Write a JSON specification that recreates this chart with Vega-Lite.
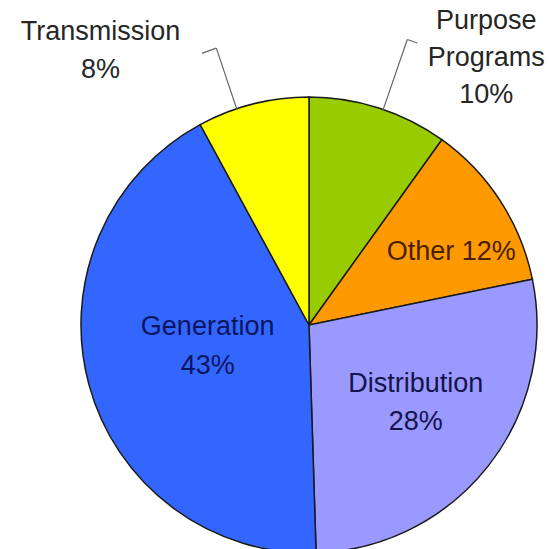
{
  "$schema": "https://vega.github.io/schema/vega-lite/v6.json",
  "width": 478,
  "height": 448,
  "autosize": {"type": "none"},
  "padding": {"left": 70, "top": 101, "right": 1, "bottom": 0},
  "background": "white",
  "view": {"stroke": null},
  "data": {
    "values": [
      {"category": "Purpose Programs", "value": 10, "idx": 1, "label": "Purpose\nPrograms\n10%"},
      {"category": "Other", "value": 12, "idx": 2, "label": "Other 12%"},
      {"category": "Distribution", "value": 28, "idx": 3, "label": "Distribution\n28%"},
      {"category": "Generation", "value": 43, "idx": 4, "label": "Generation\n43%"},
      {"category": "Transmission", "value": 8, "idx": 5, "label": "Transmission\n8%"}
    ]
  },
  "transform": [
    {"stack": "value", "groupby": [], "sort": [{"field": "idx", "order": "ascending"}], "as": ["v0", "v1"]}
  ],
  "layer": [
    {
      "mark": {"type": "arc", "radius": 228, "stroke": "#1a1a1a", "strokeWidth": 1.5},
      "encoding": {
        "theta": {"field": "v0", "type": "quantitative"},
        "theta2": {"field": "v1"},
        "color": {
          "field": "category",
          "type": "nominal",
          "scale": {
            "domain": ["Purpose Programs", "Other", "Distribution", "Generation", "Transmission"],
            "range": ["#99cc00", "#ff9900", "#9999ff", "#3366ff", "#ffff00"]
          },
          "legend": null
        }
      }
    },
    {
      "transform": [{"filter": "datum.category === 'Purpose Programs'"}],
      "mark": {"type": "arc", "radius": 302, "radius2": 227, "thetaOffset": 0.33161, "theta2Offset": 0.33161, "filled": false, "stroke": "#666666", "strokeWidth": 1.2},
      "encoding": {
        "theta": {"field": "v0", "type": "quantitative"},
        "theta2": {"field": "v0"}
      }
    },
    {
      "transform": [{"filter": "datum.category === 'Purpose Programs'"}],
      "mark": {"type": "arc", "radius": 302, "radius2": 302, "thetaOffset": 0.3665, "theta2Offset": 0.33161, "filled": false, "stroke": "#666666", "strokeWidth": 1.2},
      "encoding": {
        "theta": {"field": "v0", "type": "quantitative"},
        "theta2": {"field": "v0"}
      }
    },
    {
      "transform": [{"filter": "datum.category === 'Transmission'"}],
      "mark": {"type": "arc", "radius": 292, "radius2": 227, "thetaOffset": 0.17473, "theta2Offset": 0.17473, "filled": false, "stroke": "#666666", "strokeWidth": 1.2},
      "encoding": {
        "theta": {"field": "v0", "type": "quantitative"},
        "theta2": {"field": "v0"}
      }
    },
    {
      "transform": [{"filter": "datum.category === 'Transmission'"}],
      "mark": {"type": "arc", "radius": 292, "radius2": 292, "thetaOffset": 0.17473, "theta2Offset": 0.12237, "filled": false, "stroke": "#666666", "strokeWidth": 1.2},
      "encoding": {
        "theta": {"field": "v0", "type": "quantitative"},
        "theta2": {"field": "v0"}
      }
    },
    {
      "mark": {"type": "text", "radius": 105, "dx": 0, "dy": -25, "font": "Liberation Sans", "fontSize": 27, "lineHeight": 39, "lineBreak": "\n", "align": "center", "baseline": "middle", "color": "#0b1560"},
      "encoding": {
        "theta": {"field": "value", "type": "quantitative", "stack": true},
        "order": {"field": "idx", "type": "quantitative"},
        "text": {"condition": {"test": "datum.category === 'Generation'", "field": "label"}, "value": ""}
      }
    },
    {
      "mark": {"type": "text", "radius": 131, "dx": 4, "dy": -22, "font": "Liberation Sans", "fontSize": 27, "lineHeight": 38, "lineBreak": "\n", "align": "center", "baseline": "middle", "color": "#14144a"},
      "encoding": {
        "theta": {"field": "value", "type": "quantitative", "stack": true},
        "order": {"field": "idx", "type": "quantitative"},
        "text": {"condition": {"test": "datum.category === 'Distribution'", "field": "label"}, "value": ""}
      }
    },
    {
      "mark": {"type": "text", "radius": 160, "dx": 8, "dy": 14, "font": "Liberation Sans", "fontSize": 27, "lineHeight": 38, "lineBreak": "\n", "align": "center", "baseline": "middle", "color": "#4a1f00"},
      "encoding": {
        "theta": {"field": "value", "type": "quantitative", "stack": true},
        "order": {"field": "idx", "type": "quantitative"},
        "text": {"condition": {"test": "datum.category === 'Other'", "field": "label"}, "value": ""}
      }
    },
    {
      "mark": {"type": "text", "radius": 282, "dx": -139, "dy": -20, "font": "Liberation Sans", "fontSize": 27, "lineHeight": 38, "lineBreak": "\n", "align": "center", "baseline": "middle", "color": "#262626"},
      "encoding": {
        "theta": {"field": "value", "type": "quantitative", "stack": true},
        "order": {"field": "idx", "type": "quantitative"},
        "text": {"condition": {"test": "datum.category === 'Transmission'", "field": "label"}, "value": ""}
      }
    },
    {
      "mark": {"type": "text", "radius": 282, "dx": 91, "dy": -36, "font": "Liberation Sans", "fontSize": 27, "lineHeight": 37, "lineBreak": "\n", "align": "center", "baseline": "middle", "color": "#262626"},
      "encoding": {
        "theta": {"field": "value", "type": "quantitative", "stack": true},
        "order": {"field": "idx", "type": "quantitative"},
        "text": {"condition": {"test": "datum.category === 'Purpose Programs'", "field": "label"}, "value": ""}
      }
    }
  ]
}
